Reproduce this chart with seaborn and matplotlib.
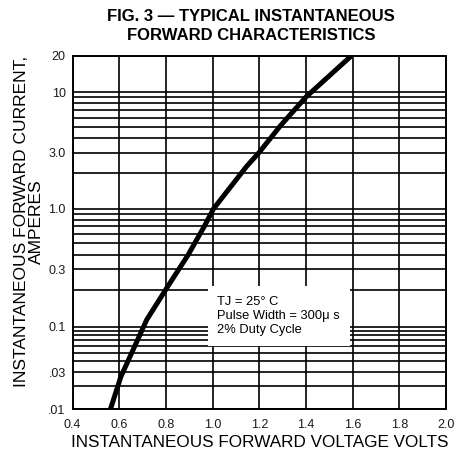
import matplotlib
matplotlib.use("Agg")
import matplotlib.pyplot as plt
from matplotlib.ticker import LogLocator, FixedLocator, NullFormatter
import seaborn as sns
import pandas as pd
import numpy as np

# forward voltage (V) vs forward current (A)
volts = [0.562, 0.606, 0.717, 0.805, 0.894, 0.963, 1.004, 1.144, 1.20, 1.289, 1.40, 1.589]
amps = [0.0100, 0.0259, 0.114, 0.212, 0.396, 0.697, 1.00, 2.28, 3.04, 5.1, 9.1, 19.6]

x_ticks = [0.4, 0.6, 0.8, 1.0, 1.2, 1.4, 1.6, 1.8, 2.0]
x_labels = ["0.4", "0.6", "0.8", "1.0", "1.2", "1.4", "1.6", "1.8", "2.0"]
y_ticks = [0.01, 0.03, 0.1, 0.3, 1.0, 3.0, 10, 20]
y_labels = [".01", ".03", "0.1", "0.3", "1.0", "3.0", "10", "20"]

# the printed log paper is not uniform: bottom decade is squashed.
# heights of each labelled value above the bottom edge, in pixels
y_heights = [0, 37, 82.3, 140, 200.5, 256.3, 317, 353.3]
log_ticks = np.log10(y_ticks)


def fwd(v):
    v = np.clip(np.asarray(v, dtype=float), 1e-6, None)
    return np.interp(np.log10(v), log_ticks, y_heights)


def inv(h):
    return 10 ** np.interp(h, y_heights, log_ticks)


df = pd.DataFrame({"V": volts, "I": amps})

sns.set_style("white")
plt.rcParams["font.family"] = ["Liberation Sans", "DejaVu Sans"]
plt.rcParams["text.color"] = "black"
plt.rcParams["axes.labelcolor"] = "black"

fig = plt.figure(figsize=(4.56, 4.54), dpi=100)
ax = fig.add_axes([0.1594, 0.0991, 0.819, 0.778])

ax.set_yscale("function", functions=(fwd, inv))
sns.lineplot(data=df, x="V", y="I", color="black", linewidth=3.6, ax=ax, zorder=5)

ax.set_xlim(0.4, 2.0)
ax.set_ylim(0.01, 20)

ax.xaxis.set_major_locator(FixedLocator(x_ticks))
ax.set_xticklabels(x_labels)
ax.yaxis.set_major_locator(FixedLocator(y_ticks))
ax.set_yticklabels(y_labels)
ax.yaxis.set_minor_locator(LogLocator(base=10, subs=range(1, 10)))
ax.yaxis.set_minor_formatter(NullFormatter())

ax.grid(True, which="both", axis="y", color="black", linewidth=1.2)
ax.grid(True, which="major", axis="x", color="black", linewidth=1.2)
ax.tick_params(axis="both", which="both", length=0, labelsize=9, labelcolor="#1a1a1a")
ax.tick_params(axis="x", pad=7)
ax.tick_params(axis="y", pad=5)
for s in ax.spines.values():
    s.set_color("black")
    s.set_linewidth(1.4)

ax.set_xlabel("INSTANTANEOUS FORWARD VOLTAGE VOLTS", fontsize=12.3, labelpad=3)
ax.set_ylabel("INSTANTANEOUS FORWARD CURRENT,\nAMPERES", fontsize=12.5, linespacing=1.0)
ax.yaxis.set_label_coords(-0.078, 0.53)

fig.suptitle("FIG. 3 \u2014 TYPICAL INSTANTANEOUS\nFORWARD CHARACTERISTICS",
             fontsize=12, fontweight="bold", x=0.551, y=0.98, linespacing=1.35)

ax.text(0.387, 0.32, "TJ = 25\u00b0 C\nPulse Width = 300\u03bc s\n2% Duty Cycle",
        transform=ax.transAxes, fontsize=9.3, va="top", ha="left", linespacing=1.25,
        zorder=6, bbox=dict(facecolor="white", edgecolor="none", pad=7))

fig.savefig("out.png", dpi=100)
